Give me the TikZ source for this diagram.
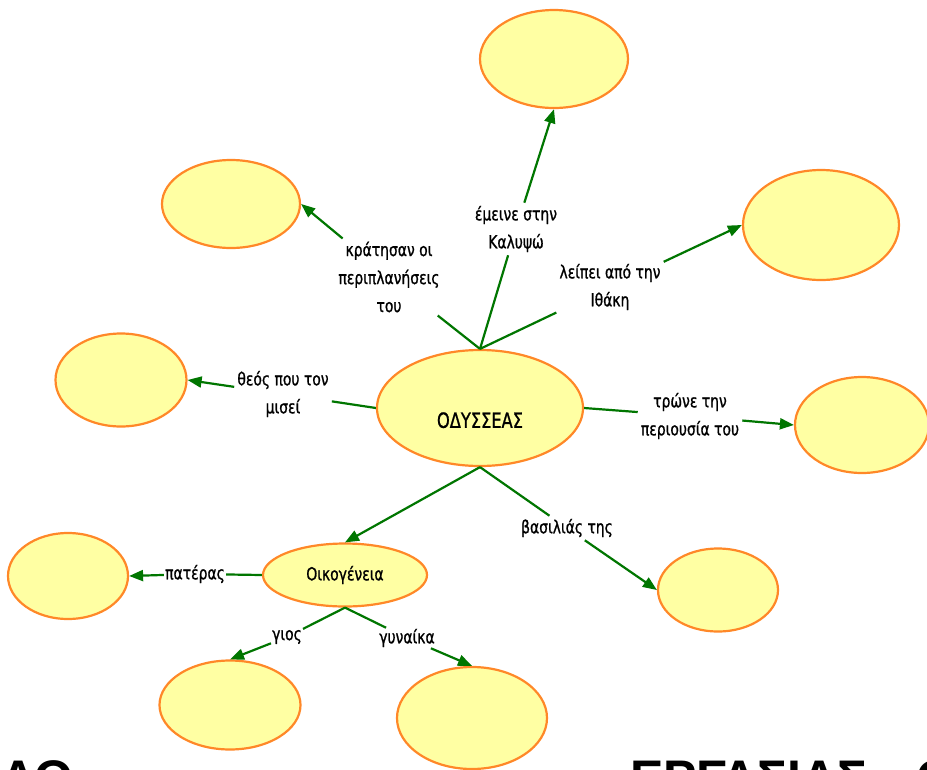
\documentclass[tikz,border=0pt]{standalone}
\usepackage{fontspec}
\setmainfont{DejaVu Sans Condensed}
\newfontfamily\lblfont{DejaVu Sans Condensed}[FakeBold=1,FakeStretch=0.86]
\newfontfamily\bigfont{Liberation Sans}
\usetikzlibrary{arrows.meta,shapes.geometric}
\definecolor{yellowC}{RGB}{255,255,163}
\definecolor{orangeC}{RGB}{255,136,40}
\definecolor{greenC}{RGB}{0,118,0}
\begin{document}
\begin{tikzpicture}[x=1pt,y=-1pt,
  concept/.style={ellipse, draw=orangeC, fill=yellowC, line width=2.2pt, inner sep=0pt},
  lbl/.style={fill=white, inner sep=3pt, align=center, font=\lblfont\fontsize{18}{28}\selectfont},
  link/.style={draw=greenC, line width=2.2pt},
  arr/.style={link, -{Triangle[length=14pt,width=11pt]}},
  big/.style={anchor=base west, inner sep=0pt, font=\bigfont\bfseries\fontsize{50}{50}\selectfont}]
\useasboundingbox (0,0) rectangle (927,769);
\fill[white] (0,0) rectangle (927,769);
% concepts
\node[concept, minimum width=148pt, minimum height=98pt] (top) at (554,59) {};
\node[concept, minimum width=138pt, minimum height=88pt] (ul) at (231,204) {};
\node[concept, minimum width=156pt, minimum height=110pt] (ur) at (821,225) {};
\node[concept, minimum width=131pt, minimum height=93pt] (lm) at (121,380) {};
\node[concept, minimum width=206pt, minimum height=116pt, font=\lblfont\fontsize{21}{21}\selectfont] (odys) at (480,408) {\rule{0pt}{40pt}ΟΔΥΣΣΕΑΣ};
\node[concept, minimum width=134pt, minimum height=96pt] (right) at (862,425) {};
\node[concept, minimum width=120pt, minimum height=83pt] (br) at (718,590) {};
\node[concept, minimum width=164pt, minimum height=63pt, font=\lblfont\fontsize{18}{18}\selectfont] (oik) at (345,575) {Οικογένεια};
\node[concept, minimum width=120pt, minimum height=86pt] (father) at (68,576) {};
\node[concept, minimum width=141pt, minimum height=89pt] (son) at (230,705) {};
\node[concept, minimum width=150pt, minimum height=102pt] (wife) at (472,718) {};
% labels
\node[lbl] (lk) at (389,277) {κράτησαν οι\\περιπλανήσεις\\του};
\node[lbl] (le) at (516,229) {έμεινε στην\\Καλυψώ};
\node[lbl] (li) at (610,287) {λείπει από την\\Ιθάκη};
\node[lbl] (lt) at (283,394) {θεός που τον\\μισεί};
\node[lbl] (lr) at (690,416) {τρώνε την\\περιουσία του};
\node[lbl] (lb) at (567,528) {βασιλιάς της};
\node[lbl, inner sep=1pt] (lp) at (195,574) {πατέρας};
\node[lbl, inner sep=1pt] (lg) at (287,637) {γιος};
\node[lbl, inner sep=1pt] (lw) at (407,638) {γυναίκα};
% connectors
\draw[link] (odys.north) -- (lk);
\draw[arr] (lk) -- (ul.east);
\draw[link] (odys.north) -- (le);
\draw[arr] (le) -- (top.south);
\draw[link] (odys.north) -- (li);
\draw[arr] (li) -- (ur.west);
\draw[link] (odys.west) -- (lt);
\draw[arr] (lt) -- (lm.east);
\draw[link] (odys.east) -- (lr);
\draw[arr] (lr) -- (right.west);
\draw[link] (odys.south) -- (lb);
\draw[arr] (lb) -- (br.west);
\draw[arr] (odys.south) -- (oik.north);
\draw[link] (oik.west) -- (lp);
\draw[arr] (lp) -- (father.east);
\draw[link] (oik.south) -- (lg);
\draw[arr] (lg) -- (son.north);
\draw[link] (oik.south) -- (lw);
\draw[arr] (lw) -- (wife.north);
% cut-off title text
\node[big] (ath) at (0,795) {ΑΘ};
\node[big] (erg) at (630,795) {ΕΡΓΑΣΙΑΣ};
\node[big] (ocut) at (916,795) {Ο};
\end{tikzpicture}
\end{document}
